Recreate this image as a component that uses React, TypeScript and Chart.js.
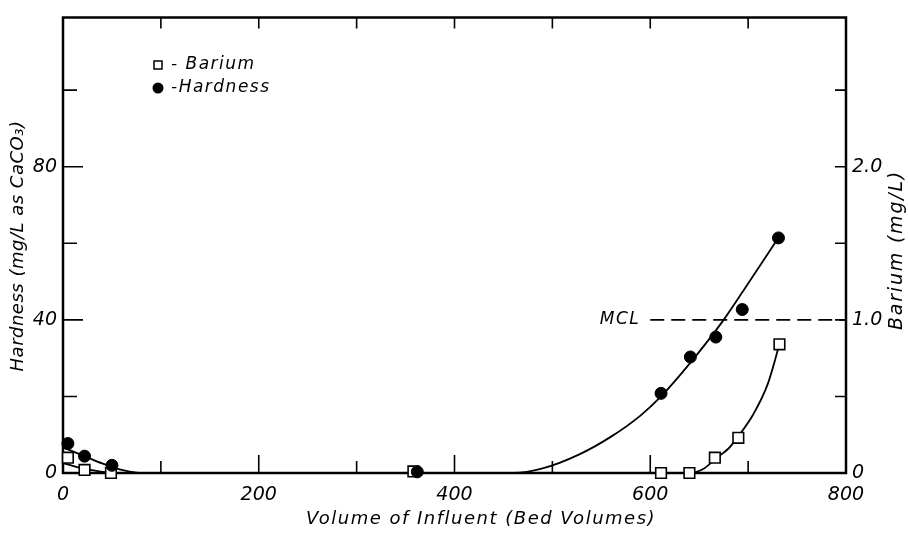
import { useEffect, useRef } from 'react';
import { Chart, registerables } from 'chart.js';

Chart.register(...registerables);

// ---- Data ----
const hardnessVolume = [5, 22, 50, 362, 611, 641, 667, 694, 731];
const hardnessValues = [7.7, 4.4, 2.0, 0.3, 20.8, 30.3, 35.5, 42.7, 61.4];

const bariumVolume = [5, 22, 49, 358, 611, 640, 666, 690, 732];
const bariumValues = [0.1, 0.02, 0.0, 0.01, 0.0, 0.0, 0.1, 0.23, 0.84];

const hardnessCurveVolume = [0, 20, 40, 60, 75, 90, 460, 490, 527, 560, 590, 611, 640, 675, 700, 731];
const hardnessCurveValues = [6.7, 4.6, 2.5, 0.8, 0.1, 0, 0, 1.2, 4.8, 9.5, 15, 20, 28.5, 40, 49.5, 61.5];

const bariumCurveVolume = [0, 20, 40, 55, 600, 640, 655, 666, 680, 690, 705, 720, 732];
const bariumCurveValues = [0.065, 0.03, 0.008, 0, 0, 0, 0.03, 0.09, 0.16, 0.24, 0.38, 0.58, 0.84];

const mclVolume = [600, 800];
const mclBarium = 1.0;
const mclLabel = 'MCL';

const xLabelValues = [0, 200, 400, 600, 800];
const leftLabelValues = [0, 40, 80];
const rightLabelValues = [0, 1, 2];
const rightLabels = ['0', '1.0', '2.0'];

const xTitle = 'Volume of Influent (Bed Volumes)';
const leftTitle = 'Hardness (mg/L as CaCO\u2083)';
const rightTitle = 'Barium (mg/L)';
const legendLabels = ['- Barium', '-Hardness'];

const FAMILY = "'DejaVu Sans', 'Liberation Sans', sans-serif";
const tickFont = { family: FAMILY, size: 19, style: 'italic' as const };

const decorPlugin = {
  id: 'decor',
  beforeDatasetsDraw(chart: any) {
    const { ctx, chartArea: a, scales } = chart;
    const xs = scales.x, ys = scales.y, y2s = scales.y2;
    ctx.save();
    ctx.strokeStyle = '#000';
    ctx.lineCap = 'butt';
    // frame
    ctx.lineWidth = 2.5;
    ctx.beginPath();
    ctx.moveTo(a.left, a.top);
    ctx.lineTo(a.right, a.top);
    ctx.lineTo(a.right, a.bottom);
    ctx.lineTo(a.left, a.bottom);
    ctx.closePath();
    ctx.stroke();
    // inward ticks
    ctx.lineWidth = 1.6;
    ctx.beginPath();
    xs.ticks.forEach((t: any) => {
      if (t.value <= xs.min || t.value >= xs.max) return;
      const px = xs.getPixelForValue(t.value);
      const len = xLabelValues.includes(t.value) ? 18 : 12;
      ctx.moveTo(px, a.bottom);
      ctx.lineTo(px, a.bottom - len);
      ctx.moveTo(px, a.top);
      ctx.lineTo(px, a.top + 11);
    });
    ys.ticks.forEach((t: any) => {
      if (t.value <= ys.min || t.value >= ys.max) return;
      const py = ys.getPixelForValue(t.value);
      const len = leftLabelValues.includes(t.value) ? 20 : 14;
      ctx.moveTo(a.left, py);
      ctx.lineTo(a.left + len, py);
    });
    y2s.ticks.forEach((t: any) => {
      if (t.value <= y2s.min || t.value >= y2s.max) return;
      const py = y2s.getPixelForValue(t.value);
      ctx.moveTo(a.right, py);
      ctx.lineTo(a.right - 11, py);
    });
    ctx.stroke();
    ctx.restore();
  },
  afterDraw(chart: any) {
    const { ctx, chartArea: a, scales } = chart;
    const xs = scales.x, y2s = scales.y2;
    ctx.save();
    ctx.fillStyle = '#000';
    ctx.strokeStyle = '#000';
    (ctx as any).letterSpacing = '1.5px';
    ctx.font = `italic 18px ${FAMILY}`;
    ctx.textBaseline = 'middle';
    // x title
    ctx.textAlign = 'center';
    ctx.fillText(xTitle, 481, 519);
    // left title
    ctx.save();
    (ctx as any).letterSpacing = '0.5px';
    ctx.translate(18, 246);
    ctx.rotate(-Math.PI / 2);
    ctx.fillText(leftTitle, 0, 0);
    ctx.restore();
    // right title
    ctx.save();
    ctx.font = `italic 19px ${FAMILY}`;
    (ctx as any).letterSpacing = '1.8px';
    ctx.translate(897, 250);
    ctx.rotate(-Math.PI / 2);
    ctx.fillText(rightTitle, 0, 0);
    ctx.restore();
    // MCL label
    ctx.font = `italic 17px ${FAMILY}`;
    ctx.textAlign = 'right';
    ctx.fillText(mclLabel, xs.getPixelForValue(mclVolume[0]) - 10, y2s.getPixelForValue(mclBarium));
    // legend
    ctx.textAlign = 'left';
    ctx.lineWidth = 1.5;
    ctx.fillStyle = '#fff';
    ctx.fillRect(a.left + 91, 61, 8, 8);
    ctx.strokeRect(a.left + 91, 61, 8, 8);
    ctx.fillStyle = '#000';
    ctx.fillText(legendLabels[0], a.left + 108, 65);
    ctx.beginPath();
    ctx.arc(a.left + 95, 88, 5.5, 0, Math.PI * 2);
    ctx.fill();
    ctx.fillText(legendLabels[1], a.left + 108, 88);
    ctx.restore();
  },
};

export default function App() {
  const canvasRef = useRef<HTMLCanvasElement | null>(null);

  useEffect(() => {
    if (!canvasRef.current) return;
    Chart.defaults.color = '#000';
    const chart = new Chart(canvasRef.current, {
      type: 'scatter',
      data: {
        datasets: [
          {
            label: 'Hardness',
            data: hardnessVolume.map((x, i) => ({ x, y: hardnessValues[i] })),
            yAxisID: 'y',
            pointStyle: 'circle',
            pointRadius: 6,
            pointBackgroundColor: '#000',
            pointBorderColor: '#000',
            pointBorderWidth: 1,
            showLine: false,
            clip: false,
          },
          {
            label: 'Barium',
            data: bariumVolume.map((x, i) => ({ x, y: bariumValues[i] })),
            yAxisID: 'y2',
            pointStyle: 'rect',
            pointRadius: 7.5,
            pointBackgroundColor: '#fff',
            pointBorderColor: '#000',
            pointBorderWidth: 1.6,
            showLine: false,
            clip: false,
          },
          {
            label: 'Hardness fit',
            type: 'line',
            data: hardnessCurveVolume.map((x, i) => ({ x, y: hardnessCurveValues[i] })),
            yAxisID: 'y',
            borderColor: '#000',
            borderWidth: 1.8,
            pointRadius: 0,
            cubicInterpolationMode: 'monotone',
            fill: false,
            clip: false,
          },
          {
            label: 'Barium fit',
            type: 'line',
            data: bariumCurveVolume.map((x, i) => ({ x, y: bariumCurveValues[i] })),
            yAxisID: 'y2',
            borderColor: '#000',
            borderWidth: 1.8,
            pointRadius: 0,
            cubicInterpolationMode: 'monotone',
            fill: false,
            clip: false,
          },
          {
            label: 'MCL',
            type: 'line',
            data: mclVolume.map((x) => ({ x, y: mclBarium })),
            yAxisID: 'y2',
            borderColor: '#000',
            borderWidth: 1.6,
            borderDash: [14, 7],
            pointRadius: 0,
            fill: false,
          },
        ],
      } as any,
      options: {
        animation: false,
        responsive: false,
        maintainAspectRatio: false,
        layout: { padding: { top: 9, left: 0, right: 0, bottom: 0 } },
        plugins: {
          legend: { display: false },
          tooltip: { enabled: false },
          title: { display: false },
        },
        scales: {
          x: {
            type: 'linear',
            position: 'bottom',
            min: 0,
            max: 800,
            grid: { display: false, drawTicks: false },
            border: { display: false },
            ticks: {
              stepSize: 100,
              autoSkip: false,
              maxRotation: 0,
              padding: 11,
              font: tickFont,
              color: '#000',
              callback: (v: any) => (xLabelValues.includes(Number(v)) ? String(v) : ''),
            },
            afterFit: (s: any) => {
              s.height = 62;
            },
          },
          y: {
            type: 'linear',
            position: 'left',
            min: 0,
            max: 119,
            grid: { display: false, drawTicks: false },
            border: { display: false },
            ticks: {
              stepSize: 20,
              autoSkip: false,
              padding: 6,
              font: tickFont,
              color: '#000',
              callback: (v: any) => (leftLabelValues.includes(Number(v)) ? String(v) : ''),
            },
            afterFit: (s: any) => {
              s.width = 63;
            },
          },
          y2: {
            type: 'linear',
            position: 'right',
            min: 0,
            max: 2.975,
            grid: { display: false, drawTicks: false },
            border: { display: false },
            ticks: {
              stepSize: 0.5,
              autoSkip: false,
              padding: 6,
              font: tickFont,
              color: '#000',
              callback: (v: any) => {
                const idx = rightLabelValues.indexOf(Number(v));
                return idx >= 0 ? rightLabels[idx] : '';
              },
            },
            afterFit: (s: any) => {
              s.width = 62;
            },
          },
        },
      } as any,
      plugins: [decorPlugin],
    });
    return () => chart.destroy();
  }, []);

  return (
    <div style={{ position: 'fixed', left: 0, top: 0, width: 908, height: 535, background: '#fff' }}>
      <canvas ref={canvasRef} width={908} height={535} style={{ display: 'block', width: 908, height: 535 }} />
    </div>
  );
}
